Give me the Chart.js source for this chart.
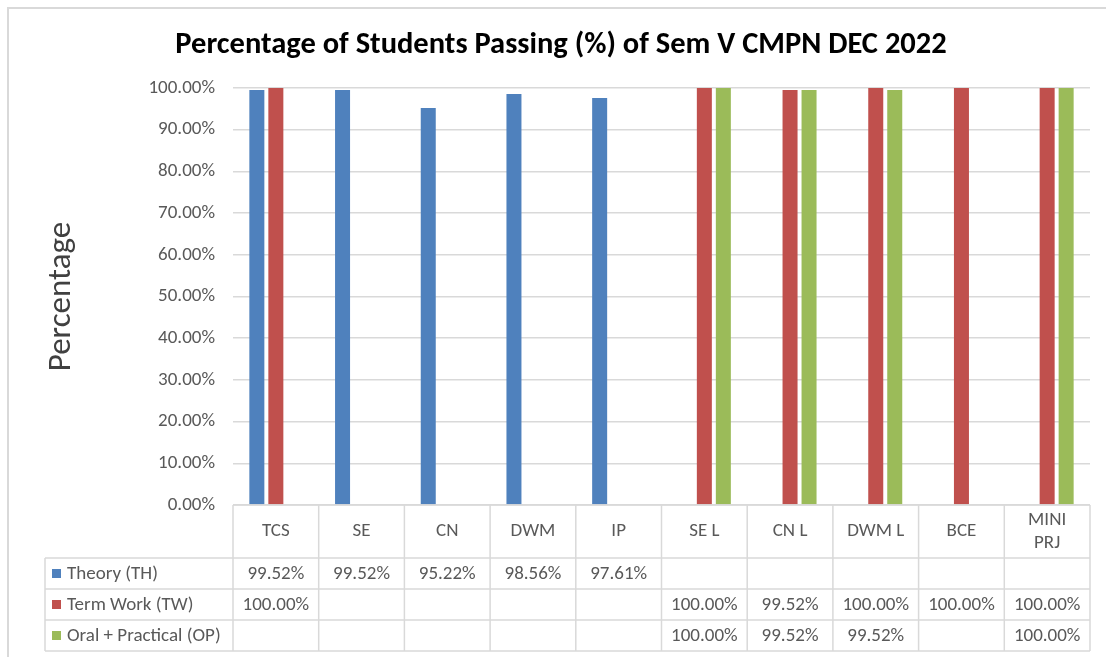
<!DOCTYPE html>
<html>
<head>
<meta charset="utf-8">
<title>Sem V CMPN DEC 2022</title>
<script src="https://cdn.jsdelivr.net/npm/chart.js@4.4.1/dist/chart.umd.min.js"></script>
<style>
  html, body { margin: 0; padding: 0; background: #fff; }
  #wrap { position: relative; width: 1106px; height: 657px; overflow: hidden; }
  #frame { position: absolute; left: 7px; top: 7px; width: 1200px; height: 700px;
           border-left: 2px solid #d9d9d9; border-top: 2px solid #d9d9d9; }
  #chart { position: absolute; left: 0; top: 0; }
</style>
</head>
<body>
<div id="wrap">
  <div id="frame"></div>
  <canvas id="chart" width="1106" height="657"></canvas>
</div>
<script>
// subjects (MINI PRJ wraps on two lines like the source)
const subjects = ["TCS", "SE", "CN", "DWM", "IP", "SE L", "CN L", "DWM L", "BCE", ["MINI", "PRJ"]];

// pass percentages, null = no such exam for the subject
const theory        = [99.52, 99.52, 95.22, 98.56, 97.61, null, null, null, null, null];
const termWork      = [100, null, null, null, null, 100, 99.52, 100, 100, 100];
const oralPractical = [null, null, null, null, null, 100, 99.52, 99.52, null, 100];

const seriesNames = ["Theory (TH)", "Term Work (TW)", "Oral + Practical (OP)"];
const seriesColors = ["#4f81bd", "#c0504d", "#9bbb59"];

const FONT = "Carlito, 'Open Sans', sans-serif";
const GRID = "#d9d9d9";
const TEXT = "#595959";

const pct = v => v.toFixed(2) + "%";

// Excel style data table under the plot, lined up on the x scale
const dataTable = {
  id: "dataTable",
  afterDraw(chart) {
    const { ctx, chartArea } = chart;
    const x = chart.scales.x;
    const n = subjects.length;
    const step = (chartArea.right - chartArea.left) / n;
    const top = chartArea.bottom;
    const headBottom = top + 53;
    const rowH = 31;
    const legendLeft = 45;
    const rows = chart.data.datasets;
    const bottom = headBottom + rowH * rows.length;

    ctx.save();
    ctx.strokeStyle = GRID;
    ctx.lineWidth = 1.5;
    ctx.beginPath();
    // horizontal lines
    ctx.moveTo(chartArea.left, top); ctx.lineTo(chartArea.right, top);
    for (let r = 0; r <= rows.length; r++) {
      const y = headBottom + r * rowH;
      ctx.moveTo(legendLeft, y); ctx.lineTo(chartArea.right, y);
    }
    // vertical lines
    for (let i = 0; i <= n; i++) {
      const px = chartArea.left + i * step;
      ctx.moveTo(px, top); ctx.lineTo(px, bottom);
    }
    ctx.moveTo(legendLeft, headBottom); ctx.lineTo(legendLeft, bottom);
    ctx.stroke();

    ctx.font = "19px " + FONT;
    ctx.textBaseline = "middle";
    rows.forEach((ds, r) => {
      const cy = headBottom + r * rowH + rowH / 2;
      ctx.fillStyle = ds.backgroundColor;
      ctx.fillRect(52, cy - 4.5, 9, 9);
      ctx.fillStyle = TEXT;
      ctx.textAlign = "left";
      ctx.fillText(ds.label, 67, cy + 1);
      ctx.textAlign = "center";
      ds.data.forEach((v, i) => {
        if (v === null) return;
        ctx.fillText(pct(v), x.getPixelForValue(i), cy + 1);
      });
    });
    ctx.restore();
  }
};

new Chart(document.getElementById("chart"), {
  type: "bar",
  data: {
    labels: subjects,
    datasets: [
      { label: seriesNames[0], data: theory, backgroundColor: seriesColors[0] },
      { label: seriesNames[1], data: termWork, backgroundColor: seriesColors[1] },
      { label: seriesNames[2], data: oralPractical, backgroundColor: seriesColors[2] }
    ]
  },
  options: {
    responsive: false,
    animation: false,
    categoryPercentage: 0.665,
    barPercentage: 0.79,
    layout: { padding: { left: 32, right: 16, top: 6, bottom: 0 } },
    plugins: {
      legend: { display: false },
      tooltip: { enabled: false },
      title: {
        display: true,
        text: "Percentage of Students Passing (%) of Sem V CMPN DEC 2022",
        color: "#000",
        font: { family: FONT, size: 30.5, weight: "bold" },
        padding: { top: 21, bottom: 24.4 }
      }
    },
    scales: {
      x: {
        grid: { display: false },
        border: { display: false },
        ticks: {
          color: TEXT, font: { family: FONT, size: 19 }, padding: 7,
          crossAlign: "center", maxRotation: 0, autoSkip: false
        },
        afterFit(scale) { scale.height = 152; }
      },
      y: {
        min: 0,
        max: 100,
        ticks: { stepSize: 10, color: TEXT, font: { family: FONT, size: 19 }, padding: 18, callback: v => pct(v) },
        grid: { color: GRID, lineWidth: 1.5, drawTicks: false },
        border: { display: false },
        title: {
          display: true,
          text: "Percentage",
          color: "#404040",
          font: { family: FONT, size: 33 },
          padding: { top: 10, bottom: 0 }
        },
        afterFit(scale) { scale.width = 201; }
      }
    }
  },
  plugins: [dataTable]
});
</script>
</body>
</html>
